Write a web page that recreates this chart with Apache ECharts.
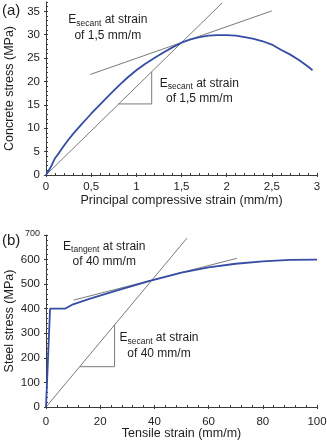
<!DOCTYPE html>
<html>
<head>
<meta charset="utf-8">
<script src="https://cdn.jsdelivr.net/npm/echarts@6.0.0/dist/echarts.min.js"></script>
<style>
  html, body { margin: 0; padding: 0; background: #fff; }
  #chart { width: 327px; height: 444px; }
</style>
</head>
<body>
<div id="chart"></div>
<script>
// (a) Concrete: principal compressive strain (mm/m) vs stress (MPa)
const concreteStrain = [0, 0.05, 0.1, 0.15, 0.2, 0.25, 0.3, 0.4, 0.5, 0.6, 0.7, 0.8, 0.9, 1.0, 1.1, 1.2, 1.3, 1.4, 1.5, 1.6, 1.7, 1.8, 1.9, 2.0, 2.1, 2.2, 2.3, 2.4, 2.5, 2.6, 2.7, 2.8, 2.9, 2.95];
const concreteStress = [0, 1.6, 3.6, 4.9, 6.3, 7.6, 8.8, 11.0, 13.1, 15.1, 17.1, 19.0, 20.8, 22.4, 23.8, 25.0, 26.2, 27.3, 28.3, 29.0, 29.5, 29.8, 29.9, 29.9, 29.8, 29.5, 29.1, 28.6, 27.9, 26.8, 25.8, 24.6, 23.2, 22.4];
const concreteSecant = [[0, 0], [1.95, 36.8]];
const concreteTangent = [[0.49, 21.5], [2.5, 35.1]];
const concreteSlope = [[0.80, 15.2], [1.17, 15.2], [1.17, 22.1]];

// (b) Steel: tensile strain (mm/m) vs stress (MPa)
const steelStrain = [0, 1.5, 7, 10, 16, 26, 38, 50, 60, 70, 80, 90, 100];
const steelStress = [0, 400, 400, 418, 440, 474, 512, 547, 568, 583, 593, 599, 600];
const steelSecant = [[0, 0], [52, 687]];
const steelTangent = [[10.2, 435], [70.4, 605]];
const steelSlope = [[12.5, 164], [25.3, 164], [25.3, 334]];

// Axis ranges and tick steps
const concreteXTicks = { min: 0, max: 3, minor: 0.1, major: 0.5 };
const concreteYTicks = { min: 0, max: 37, minor: 1, major: 5, top: 35 };
const steelXTicks = { min: 0, max: 100, minor: 4, major: 20 };
const steelYTicks = { min: 0, max: 700, minor: 20, major: 100 };

// Annotation texts and their anchor points (data coordinates, grid index)
const annotations = [
  { grid: 0, at: [0.684, 31.5], sub: 'secant', strain: '1,5' },
  { grid: 0, at: [1.697, 17.96], sub: 'secant', strain: '1,5' },
  { grid: 2, at: [21.5, 622], sub: 'tangent', strain: '40' },
  { grid: 2, at: [41.7, 249], sub: 'secant', strain: '40' }
];

const FONT = "'Liberation Sans', Arial, Helvetica, sans-serif";
const TEXT = '#1e1e1e';
const AXIS = '#3a3a3a';
const BLUE = '#364da5';
const GREY = '#7a7a7a';

function isStep(v, step) {
  const r = v / step;
  return Math.abs(r - Math.round(r)) < 1e-6;
}

const richText = {
  e: { fontSize: 12, fontFamily: FONT, fill: TEXT, lineHeight: 15.5, align: 'center' },
  s: { fontSize: 8.5, fontFamily: FONT, fill: TEXT, lineHeight: 8, verticalAlign: 'bottom', align: 'center' }
};

function annotationLabel(a) {
  return '{e|E}{s|' + a.sub + '}{e| at strain}\n{e|of ' + a.strain + ' mm/m}';
}

// Main axis: fine ticks inside, labels on the major steps
function mainAxis(gridIndex, t, extra) {
  return Object.assign({
    type: 'value', gridIndex: gridIndex, min: t.min, max: t.max, interval: t.minor,
    axisLine: { show: true, onZero: false, lineStyle: { color: AXIS, width: 1 } },
    axisTick: { show: true, inside: true, length: 2, lineStyle: { color: AXIS, width: 1 } },
    splitLine: { show: false },
    nameMoveOverlap: false,
    nameTextStyle: { fontSize: 12.5, fontFamily: FONT, color: TEXT }
  }, extra);
}

// Overlay axis: only the longer major ticks, crossing the axis line
function majorTickAxis(gridIndex, t, max) {
  return {
    type: 'value', gridIndex: gridIndex, min: t.min, max: max, interval: t.major,
    offset: -2,
    axisLine: { show: false, onZero: false },
    axisTick: { show: true, inside: false, length: 4, lineStyle: { color: AXIS, width: 1 } },
    axisLabel: { show: false },
    splitLine: { show: false }
  };
}

function lineSeries(axisIndex, data, color, width, z) {
  return {
    type: 'line', xAxisIndex: axisIndex, yAxisIndex: axisIndex, data: data,
    symbol: 'none', silent: true, z: z,
    lineStyle: { color: color, width: width },
    emphasis: { disabled: true }
  };
}

const concreteCurve = concreteStrain.map((x, i) => [x, concreteStress[i]]);
const steelCurve = steelStrain.map((x, i) => [x, steelStress[i]]);

const topGrid = { left: 46, top: 2, width: 271, height: 173 };
const topMajorGrid = { left: 46, top: 2 + 173 * (1 - concreteYTicks.top / concreteYTicks.max), width: 271, height: 173 * concreteYTicks.top / concreteYTicks.max };
const bottomGrid = { left: 46, top: 235, width: 271, height: 172 };

const chart = echarts.init(document.getElementById('chart'), null, { renderer: 'canvas' });

chart.setOption({
  animation: false,
  backgroundColor: '#fff',
  textStyle: { fontFamily: FONT },
  grid: [topGrid, topMajorGrid, bottomGrid, Object.assign({}, bottomGrid)].map(g =>
    Object.assign({ containLabel: false, outerBoundsMode: 'none' }, g)),
  xAxis: [
    mainAxis(0, concreteXTicks, {
      position: 'bottom',
      name: 'Principal compressive strain (mm/m)', nameLocation: 'middle', nameGap: 19,
      axisLabel: {
        margin: 6, fontSize: 11.5, fontFamily: FONT, color: TEXT,
        formatter: v => isStep(v, concreteXTicks.major) ? String(+v.toFixed(1)).replace('.', ',') : ''
      }
    }),
    majorTickAxis(1, concreteXTicks, concreteXTicks.max),
    mainAxis(2, steelXTicks, {
      position: 'bottom',
      name: 'Tensile strain (mm/m)', nameLocation: 'middle', nameGap: 20,
      axisLabel: {
        margin: 9, fontSize: 11.5, fontFamily: FONT, color: TEXT,
        formatter: v => isStep(v, steelXTicks.major) ? String(Math.round(v)) : ''
      }
    }),
    majorTickAxis(3, steelXTicks, steelXTicks.max)
  ],
  yAxis: [
    mainAxis(0, concreteYTicks, {
      position: 'left',
      name: 'Concrete stress (MPa)', nameLocation: 'middle', nameGap: 30, nameRotate: 90,
      axisLabel: {
        margin: 6, fontSize: 11.5, fontFamily: FONT, color: TEXT,
        formatter: v => (isStep(v, concreteYTicks.major) && v <= concreteYTicks.top) ? String(Math.round(v)) : ''
      }
    }),
    majorTickAxis(1, concreteYTicks, concreteYTicks.top),
    mainAxis(2, steelYTicks, {
      position: 'left',
      name: 'Steel stress (MPa)', nameLocation: 'middle', nameGap: 30, nameRotate: 90,
      axisLabel: {
        margin: 6, fontSize: 11.5, fontFamily: FONT, color: TEXT,
        formatter: v => {
          if (!isStep(v, steelYTicks.major)) return '';
          return v === steelYTicks.max ? '{small|' + v + '}' : String(Math.round(v));
        },
        rich: { small: { fontSize: 9, fontFamily: FONT, color: TEXT, padding: [0, 0, 3, 0] } }
      }
    }),
    majorTickAxis(3, steelYTicks, steelYTicks.max)
  ],
  series: [
    lineSeries(0, concreteSecant, GREY, 1, 2),
    lineSeries(0, concreteTangent, GREY, 1, 2),
    lineSeries(0, concreteSlope, GREY, 1, 2),
    lineSeries(0, concreteCurve, BLUE, 1.8, 3),
    lineSeries(2, steelSecant, GREY, 1, 2),
    lineSeries(2, steelTangent, GREY, 1, 2),
    lineSeries(2, steelSlope, GREY, 1, 2),
    lineSeries(2, steelCurve, BLUE, 1.8, 3)
  ]
});

// Panel letters and annotation texts, placed from the axes' data coordinates
const graphics = [
  { type: 'text', left: 2, top: 3, style: { text: '(a)', fontSize: 15, fontFamily: FONT, fill: TEXT } },
  { type: 'text', left: 2, top: 233, style: { text: '(b)', fontSize: 15, fontFamily: FONT, fill: TEXT } }
];
annotations.forEach(a => {
  const p = chart.convertToPixel({ gridIndex: a.grid }, a.at);
  graphics.push({
    type: 'text', x: p[0], y: p[1], z: 10, silent: true,
    style: {
      text: annotationLabel(a), rich: richText, fill: TEXT,
      fontSize: 12, fontFamily: FONT, align: 'center', verticalAlign: 'middle'
    }
  });
});
chart.setOption({ graphic: graphics });
</script>
</body>
</html>
